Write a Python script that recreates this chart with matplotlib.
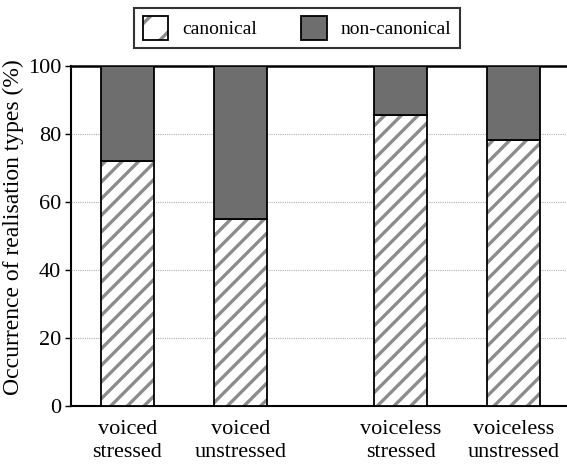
import matplotlib
matplotlib.use("Agg")
import matplotlib.pyplot as plt
from matplotlib.patches import Patch
from matplotlib.legend_handler import HandlerTuple

categories = ["voiced\nstressed", "voiced\nunstressed", "voiceless\nstressed", "voiceless\nunstressed"]
canonical = [72, 55, 85.5, 78.3]
non_canonical = [100 - v for v in canonical]
positions = [0, 1, 2.42, 3.42]

plt.rcParams['font.family'] = ['Liberation Serif', 'DejaVu Serif']
plt.rcParams['hatch.linewidth'] = 2.4

fig = plt.figure(figsize=(5.67, 4.66), dpi=100)
ax = fig.add_axes([71/567, 60/466, (567-71)/567, (406-66)/466])

width = 53/113
ax.bar(positions, canonical, width=width, color='white', edgecolor='#8c8c8c',
       hatch='//', linewidth=0, zorder=3)
ax.bar(positions, canonical, width=width, color='none', edgecolor='black',
       linewidth=1.3, zorder=4)
ax.bar(positions, non_canonical, bottom=canonical, width=width, color='#6e6e6e',
       edgecolor='black', linewidth=1.3, zorder=4)

ax.set_ylim(0, 100)
ax.set_xlim(-0.5, 3.42 + 53.5/113)
ax.set_yticks([0, 20, 40, 60, 80, 100])
ax.set_xticks(positions)
ax.set_xticklabels(categories, fontsize=16, linespacing=1.3)
ax.tick_params(axis='x', length=0, pad=10)
ax.tick_params(axis='y', length=4, width=1, labelsize=16, pad=3)
for v in [20, 40, 60, 80]:
    ax.axhline(v, color='#b0b0b0', linestyle=(0, (1, 1)), linewidth=0.8, zorder=1)
ax.spines['right'].set_visible(False)
ax.spines['top'].set_linewidth(1.8)
ax.spines['left'].set_linewidth(1.5)
ax.spines['bottom'].set_linewidth(1.5)
ax.set_ylabel("Occurrence of realisation types (%)", fontsize=17)
ax.yaxis.set_label_coords(-0.094, 0.526)

h_hatch = Patch(facecolor='white', edgecolor='#8c8c8c', hatch='/', linewidth=0)
h_outline = Patch(facecolor='none', edgecolor='black', linewidth=1.3)
h_dark = Patch(facecolor='#6e6e6e', edgecolor='black', linewidth=1.3)
leg = fig.legend([(h_hatch, h_outline), h_dark], ['canonical', 'non-canonical'], loc='center',
                 bbox_to_anchor=(297/567, 1 - 28/466), ncol=2, fontsize=14,
                 handler_map={tuple: HandlerTuple(ndivide=1, pad=0)},
                 frameon=True, fancybox=False, edgecolor='black', handlelength=1.3,
                 handleheight=1.45, columnspacing=2.3, borderpad=0.45, handletextpad=0.7,
                 borderaxespad=0)
leg.get_frame().set_linewidth(1.5)

fig.savefig("out.png", dpi=100)
